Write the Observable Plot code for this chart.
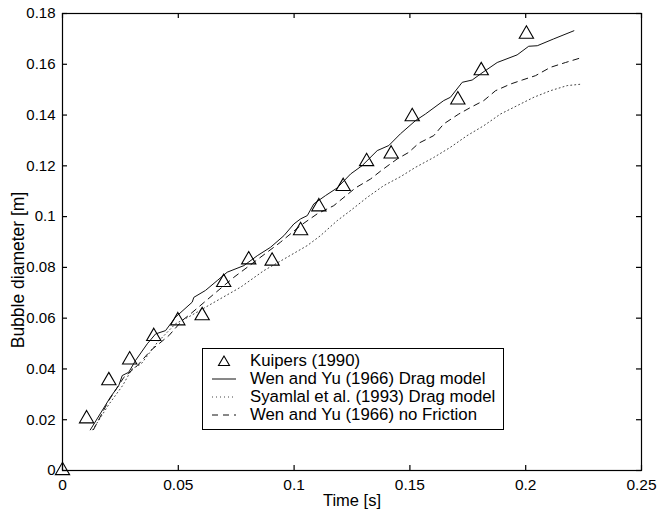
<!DOCTYPE html>
<html>
<head>
<meta charset="utf-8">
<script src="https://cdn.jsdelivr.net/npm/d3@7"></script>
<script src="https://cdn.jsdelivr.net/npm/@observablehq/plot@0.6"></script>
<style>
  html, body { margin: 0; padding: 0; background: #fff; }
  #wrap { position: relative; width: 658px; height: 514px; font-family: "Liberation Sans", Arial, Helvetica, sans-serif; }
  #legend { position: absolute; left: 202px; top: 348px; width: 300px; height: 77px; border: 1px solid #000; background: #fff; padding-top: 3px; box-sizing: content-box; }
  .row { display: flex; align-items: center; height: 18px; font-size: 16.8px; color: #000; white-space: nowrap; }
  .row svg { flex: none; margin-right: 1px; }
</style>
</head>
<body>
<div id="wrap"></div>
<script>
// ---- data ----
const xTicks = [0, 0.05, 0.1, 0.15, 0.2, 0.25];
const xTickLabels = ["0", "0.05", "0.1", "0.15", "0.2", "0.25"];
const yTicks = [0, 0.02, 0.04, 0.06, 0.08, 0.1, 0.12, 0.14, 0.16, 0.18];
const yTickLabels = ["0", "0.02", "0.04", "0.06", "0.08", "0.1", "0.12", "0.14", "0.16", "0.18"];

const seriesNames = ["Kuipers (1990)", "Wen and Yu (1966) Drag model", "Syamlal et al. (1993) Drag model", "Wen and Yu (1966) no Friction"];

const kuipersT = [0, 0.0104, 0.020, 0.029, 0.0394, 0.0498, 0.0603, 0.0696, 0.0804, 0.0905, 0.1028, 0.1107, 0.1212, 0.1313, 0.1419, 0.151, 0.1707, 0.1808, 0.2003];
const kuipersD = [0, 0.0204, 0.0354, 0.0436, 0.0528, 0.059, 0.061, 0.0741, 0.083, 0.0825, 0.0945, 0.1039, 0.1119, 0.1217, 0.1247, 0.1394, 0.146, 0.1575, 0.1719];

const wenYuT = [0.012, 0.0207, 0.0243, 0.0258, 0.0286, 0.0315, 0.0366, 0.0402, 0.0445, 0.0488, 0.056, 0.0567, 0.0617, 0.0668, 0.0711, 0.0783, 0.0841, 0.0898, 0.0956, 0.0999, 0.1028, 0.1057, 0.1085, 0.1136, 0.1186, 0.1244, 0.1294, 0.1359, 0.1409, 0.1459, 0.1524, 0.1567, 0.1646, 0.1675, 0.1726, 0.1769, 0.1805, 0.1877, 0.1963, 0.2013, 0.205, 0.2121, 0.2208];
const wenYuD = [0.016, 0.0289, 0.0335, 0.0374, 0.0387, 0.0433, 0.0499, 0.0538, 0.0551, 0.0604, 0.0663, 0.0682, 0.0709, 0.0748, 0.0781, 0.0807, 0.0846, 0.0879, 0.0925, 0.0971, 0.0991, 0.1004, 0.105, 0.1083, 0.1113, 0.1168, 0.1201, 0.126, 0.128, 0.1326, 0.1378, 0.1404, 0.1457, 0.147, 0.1529, 0.1538, 0.1562, 0.1607, 0.1637, 0.1671, 0.1673, 0.17, 0.1732];

const syamlalT = [0.013, 0.02, 0.026, 0.03, 0.034, 0.041, 0.0488, 0.0545, 0.065, 0.0769, 0.0869, 0.097, 0.1057, 0.1114, 0.1186, 0.1244, 0.1316, 0.1387, 0.1459, 0.1524, 0.1603, 0.1675, 0.1747, 0.1819, 0.1891, 0.1963, 0.2035, 0.2107, 0.2179, 0.2244];
const syamlalD = [0.016, 0.026, 0.0335, 0.04, 0.042, 0.0505, 0.0578, 0.0605, 0.066, 0.0722, 0.0787, 0.084, 0.0886, 0.0925, 0.0984, 0.1024, 0.1076, 0.1122, 0.1157, 0.1194, 0.1233, 0.1273, 0.1319, 0.1358, 0.1404, 0.1437, 0.147, 0.1496, 0.1516, 0.1522];

const noFrictionT = [0.0134, 0.02, 0.0265, 0.0323, 0.038, 0.0459, 0.0517, 0.0553, 0.0646, 0.074, 0.0797, 0.0941, 0.1028, 0.11, 0.1171, 0.1265, 0.133, 0.138, 0.1445, 0.1495, 0.1538, 0.1603, 0.1646, 0.1711, 0.1762, 0.1819, 0.187, 0.1934, 0.1985, 0.2042, 0.2107, 0.2172, 0.2244];
const noFrictionD = [0.0161, 0.0276, 0.0367, 0.0413, 0.0472, 0.0531, 0.0591, 0.0617, 0.0689, 0.0761, 0.08, 0.0899, 0.0965, 0.1011, 0.1043, 0.1113, 0.1148, 0.1184, 0.1227, 0.1253, 0.1289, 0.1319, 0.1365, 0.1404, 0.143, 0.1457, 0.1496, 0.1522, 0.1538, 0.1555, 0.1588, 0.1607, 0.1627];

const toRows = (T, D) => T.map((t, i) => ({t, d: D[i]}));
const kuipers = toRows(kuipersT, kuipersD);
const wenYu = toRows(wenYuT, wenYuD);
const syamlal = toRows(syamlalT, syamlalD);
const noFriction = toRows(noFrictionT, noFrictionD);

const W = 658, H = 514, mL = 62, mR = 17, mT = 13, mB = 44;
const innerW = W - mL - mR, innerH = H - mT - mB, tick = 5;

const chart = Plot.plot({
  width: W, height: H,
  marginLeft: mL, marginRight: mR, marginTop: mT, marginBottom: mB,
  style: {fontFamily: '"Liberation Sans", Arial, Helvetica, sans-serif', background: "#fff", color: "#000", overflow: "visible"},
  x: {domain: [0, 0.25], label: null},
  y: {domain: [0, 0.18], label: null},
  marks: [
    Plot.line(syamlal, {x: "t", y: "d", stroke: "#444", strokeWidth: 1, strokeDasharray: "1,3"}),
    Plot.line(noFriction, {x: "t", y: "d", stroke: "#111", strokeWidth: 1, strokeDasharray: "6,5"}),
    Plot.line(wenYu, {x: "t", y: "d", stroke: "#111", strokeWidth: 1}),
    Plot.dot(kuipers, {x: "t", y: "d", symbol: "triangle", r: 5.3, stroke: "#000", fill: "none", strokeWidth: 1.1}),
    Plot.frame({stroke: "#000", strokeWidth: 1.2}),
    Plot.ruleX(xTicks, {x: d => d, insetTop: innerH - tick, stroke: "#000", strokeWidth: 1.2}),
    Plot.ruleX(xTicks, {x: d => d, insetBottom: innerH - tick, stroke: "#000", strokeWidth: 1.2}),
    Plot.ruleY(yTicks, {y: d => d, insetRight: innerW - tick, stroke: "#000", strokeWidth: 1.2}),
    Plot.ruleY(yTicks, {y: d => d, insetLeft: innerW - tick, stroke: "#000", strokeWidth: 1.2}),
    Plot.axisX(xTicks, {tickSize: 0, tickPadding: 8, fontSize: 15.5, tickFormat: d => xTickLabels[xTicks.indexOf(d)], label: null}),
    Plot.axisY(yTicks, {tickSize: 0, tickPadding: 7, fontSize: 15, tickFormat: d => yTickLabels[yTicks.indexOf(d)], label: null}),
    Plot.text(["Time [s]"], {frameAnchor: "bottom", textAnchor: "middle", lineAnchor: "middle", dy: 30, fontSize: 16.5, fill: "#000"}),
    Plot.text(["Bubble diameter [m]"], {frameAnchor: "left", textAnchor: "middle", lineAnchor: "middle", rotate: -90, dx: -44, dy: 28, fontSize: 17.5, fill: "#000"})
  ]
});

const wrap = document.getElementById("wrap");
wrap.appendChild(chart);

// ---- legend (HTML overlay) ----
const legend = document.createElement("div");
legend.id = "legend";
const samples = [
  `<polygon points="21,4 15.5,13.5 26.5,13.5" fill="none" stroke="#000" stroke-width="1.1"/>`,
  `<line x1="9" y1="9" x2="33" y2="9" stroke="#111" stroke-width="1"/>`,
  `<line x1="9" y1="9" x2="33" y2="9" stroke="#444" stroke-width="1" stroke-dasharray="1,3"/>`,
  `<line x1="9" y1="9" x2="33" y2="9" stroke="#111" stroke-width="1" stroke-dasharray="6,5"/>`
];
seriesNames.forEach((name, i) => {
  const row = document.createElement("div");
  row.className = "row";
  row.innerHTML = `<svg width="46" height="18">${samples[i]}</svg><span>${name}</span>`;
  legend.appendChild(row);
});
wrap.appendChild(legend);
</script>
</body>
</html>
